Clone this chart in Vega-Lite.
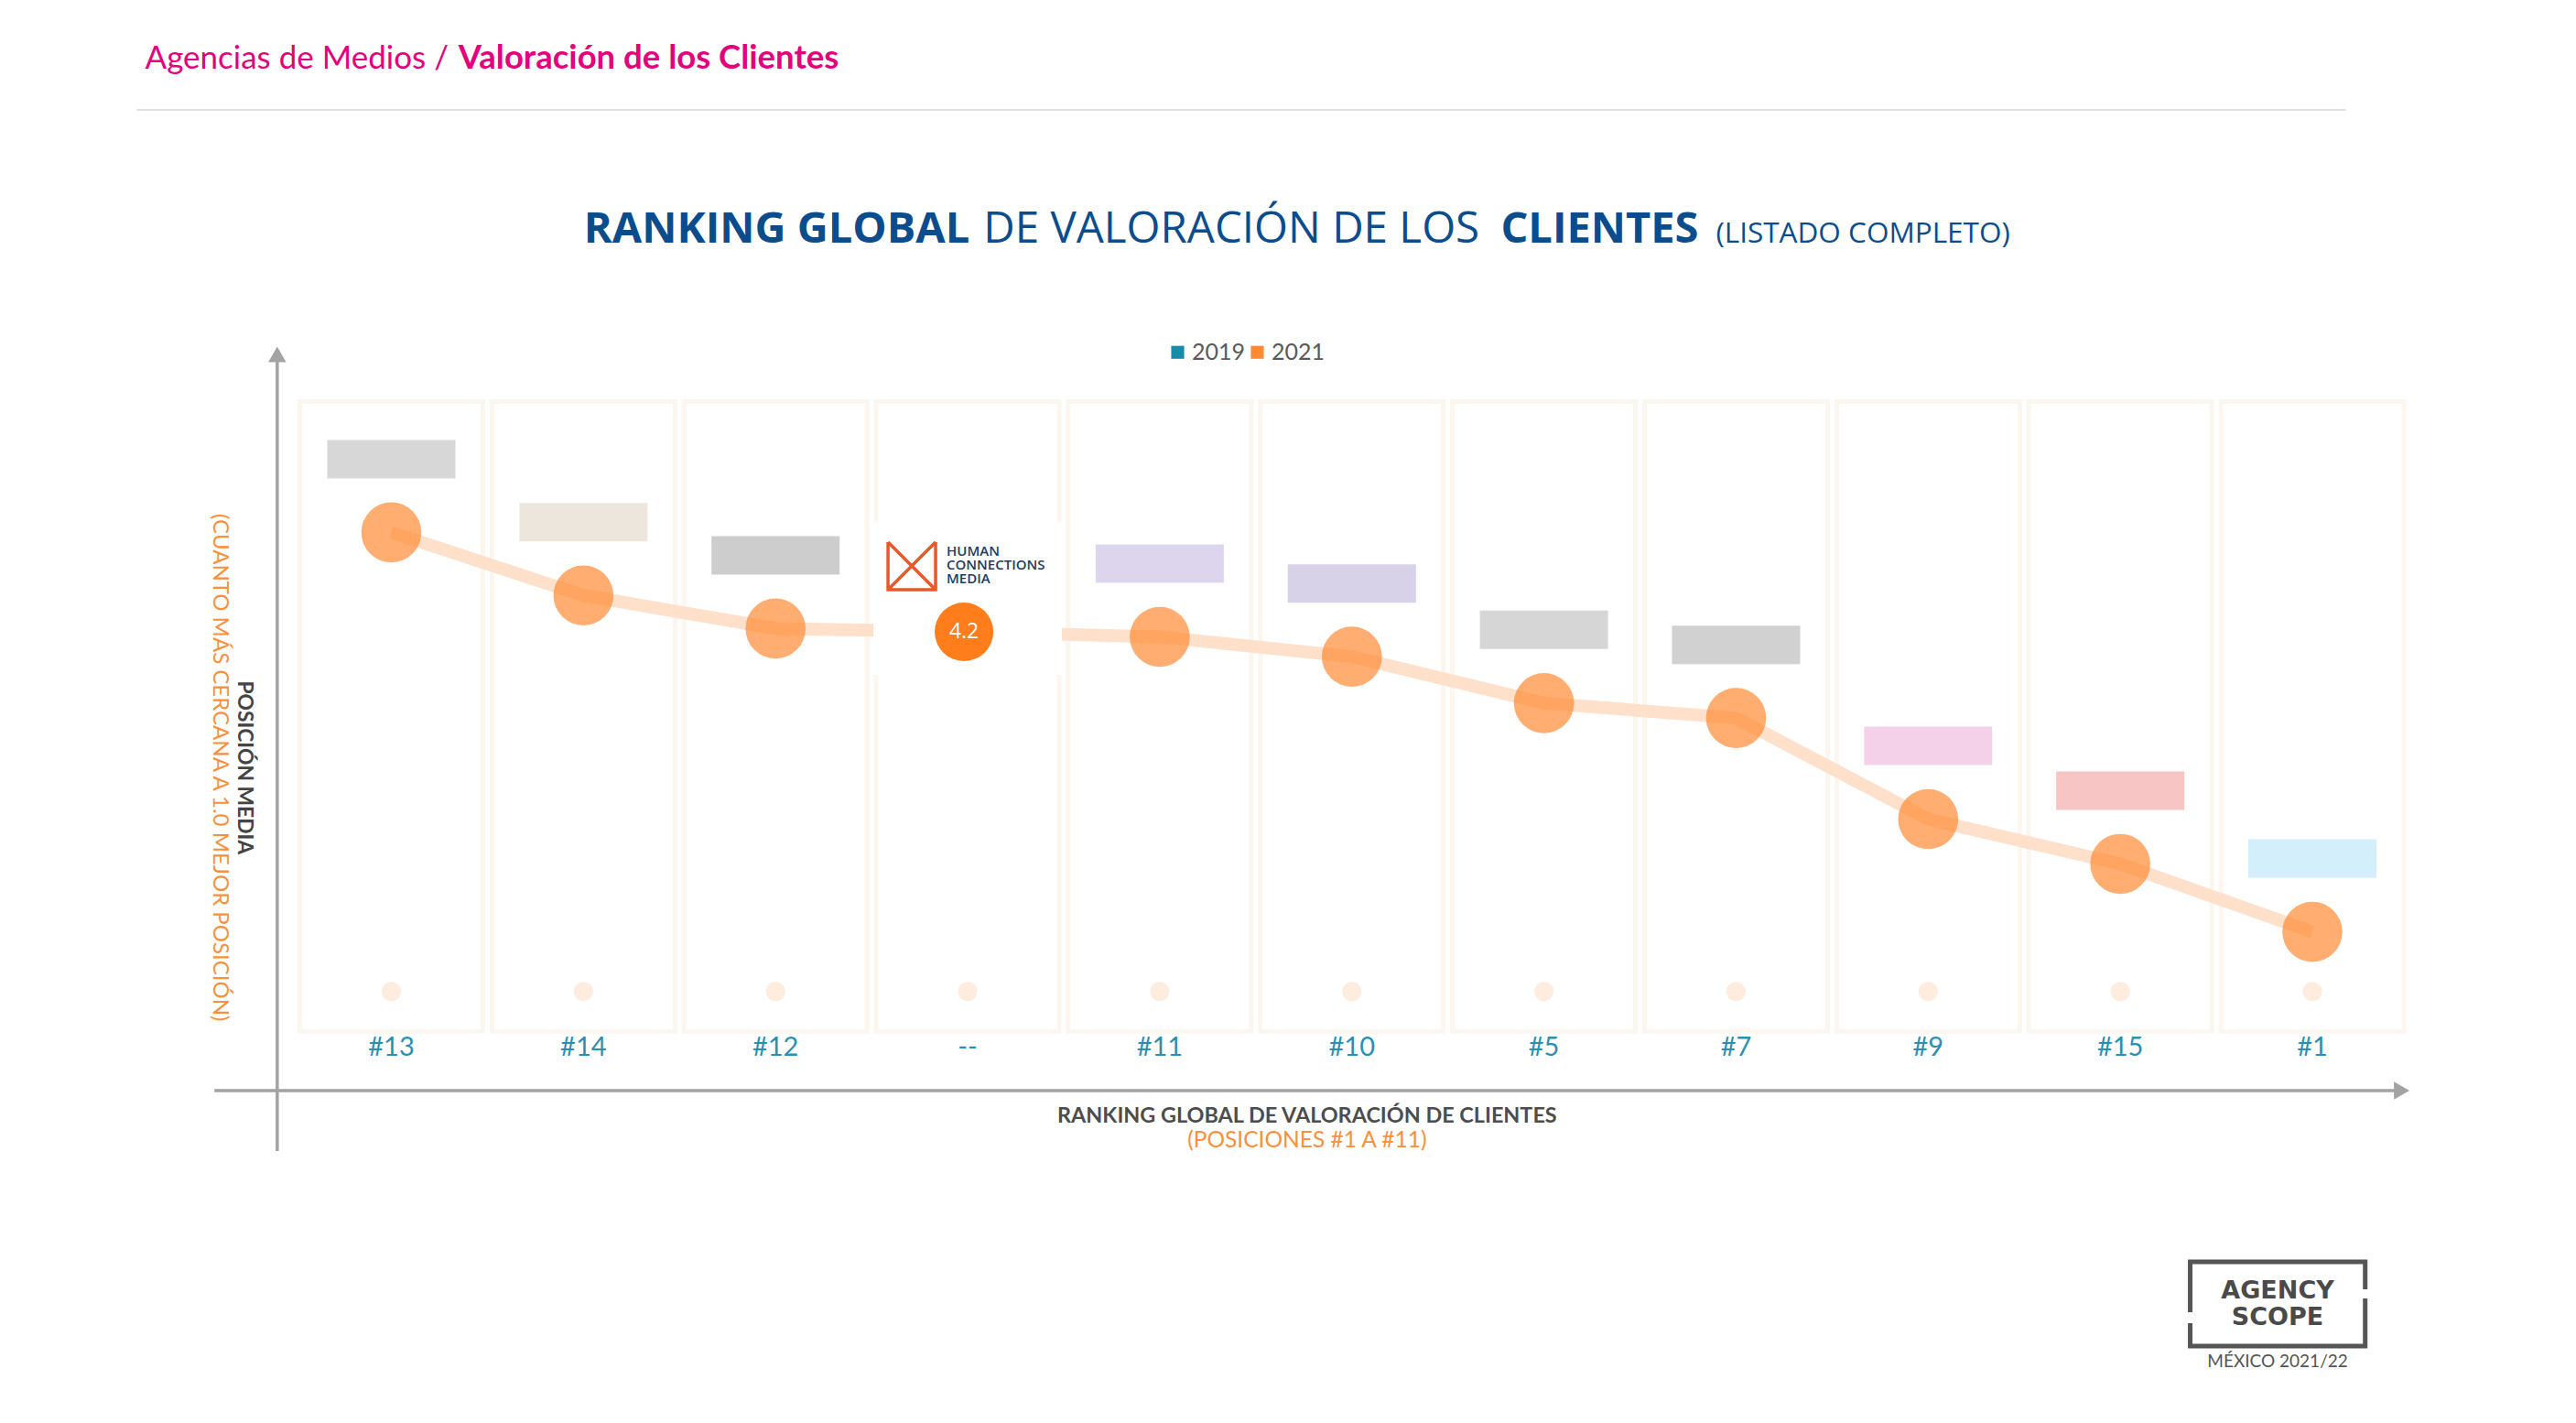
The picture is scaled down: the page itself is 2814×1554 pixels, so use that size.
{
  "$schema": "https://vega.github.io/schema/vega-lite/v6.json",
  "width": 2814,
  "height": 1554,
  "padding": 0,
  "autosize": {"type": "none"},
  "background": "white",
  "config": {"view": {"stroke": null}, "axis": {"disable": true}},
  "datasets": {
    "agencias": [
      {"idx": 0, "pos2019": "#13", "media": 4.80, "anio": "2021"},
      {"idx": 1, "pos2019": "#14", "media": 4.42, "anio": "2021"},
      {"idx": 2, "pos2019": "#12", "media": 4.22, "anio": "2021"},
      {"idx": 3, "pos2019": "--", "media": 4.20, "anio": "2021", "agencia": "Human Connections Media"},
      {"idx": 4, "pos2019": "#11", "media": 4.17, "anio": "2021"},
      {"idx": 5, "pos2019": "#10", "media": 4.05, "anio": "2021"},
      {"idx": 6, "pos2019": "#5", "media": 3.77, "anio": "2021"},
      {"idx": 7, "pos2019": "#7", "media": 3.68, "anio": "2021"},
      {"idx": 8, "pos2019": "#9", "media": 3.07, "anio": "2021"},
      {"idx": 9, "pos2019": "#15", "media": 2.80, "anio": "2021"},
      {"idx": 10, "pos2019": "#1", "media": 2.39, "anio": "2021"}
    ]
  },
  "resolve": {"scale": {"fill": "independent"}},
  "layer": [
    {
      "data": {"name": "agencias"},
      "mark": {"type": "bar", "width": 200, "fill": "#ffffff", "stroke": "#fcf6f0", "strokeWidth": 5},
      "encoding": {
        "x": {"field": "idx", "type": "quantitative", "scale": {"domain": [-2.0133, 11.3485], "nice": false, "zero": false}},
        "y": {"datum": 5.59, "type": "quantitative", "scale": {"domain": [-0.5734, 8.0122], "nice": false, "zero": false}},
        "y2": {"datum": 1.79}
      }
    },
    {
      "data": {"name": "agencias"},
      "mark": {"type": "point", "filled": true, "shape": "circle", "size": 450, "color": "#feeadc", "opacity": 0.9},
      "encoding": {
        "x": {"field": "idx", "type": "quantitative"},
        "y": {"datum": 2.03}
      }
    },
    {
      "data": {"name": "agencias"},
      "mark": {"type": "line", "color": "#fee0cb", "strokeWidth": 14},
      "encoding": {
        "x": {"field": "idx", "type": "quantitative"},
        "y": {"field": "media", "type": "quantitative"}
      }
    },
    {
      "data": {"name": "agencias"},
      "transform": [{"filter": "datum.idx != 3"}],
      "mark": {"type": "point", "filled": true, "shape": "M -1 -0.3 L 1 -0.3 L 1 0.3 L -1 0.3 Z", "size": 19600, "opacity": 0.35, "yOffset": -80},
      "encoding": {
        "x": {"field": "idx", "type": "quantitative"},
        "y": {"field": "media", "type": "quantitative"},
        "fill": {
          "field": "pos2019", "type": "nominal", "legend": null,
          "scale": {
            "domain": ["#13", "#14", "#12", "#11", "#10", "#5", "#7", "#9", "#15", "#1"],
            "range": ["#8c8c8c", "#c8b89c", "#6f6f6f", "#9d86cf", "#8e7fc0", "#8a8a8a", "#7a7a7a", "#e37cc0", "#e85a52", "#7fd0f4"]
          }
        }
      }
    },
    {
      "data": {"name": "agencias"},
      "transform": [{"filter": "datum.idx != 3"}],
      "mark": {"type": "point", "filled": true, "shape": "circle", "size": 4300, "opacity": 0.7},
      "encoding": {
        "x": {"field": "idx", "type": "quantitative"},
        "y": {"field": "media", "type": "quantitative"},
        "color": {
          "field": "anio", "type": "nominal",
          "scale": {"domain": ["2019", "2021"], "range": ["#1a8aab", "#ff8a33"]},
          "legend": {
            "title": null, "orient": "none", "legendX": 1274, "legendY": 372, "direction": "horizontal",
            "symbolType": "square", "symbolSize": 200, "symbolOpacity": 1, "symbolStrokeWidth": 0,
            "labelFont": "Lato", "labelFontSize": 25, "labelColor": "#5a5a5a", "labelOffset": 3, "columnPadding": 0
          }
        }
      }
    },
    {
      "data": {"name": "agencias"},
      "transform": [{"filter": "datum.idx == 3"}],
      "mark": {"type": "bar", "width": 206, "fill": "white"},
      "encoding": {
        "x": {"field": "idx", "type": "quantitative"},
        "y": {"datum": 4.86},
        "y2": {"datum": 3.94}
      }
    },
    {
      "data": {"name": "agencias"},
      "transform": [{"filter": "datum.idx == 3"}],
      "mark": {"type": "point", "filled": true, "shape": "circle", "size": 4100, "color": "#ff7d1a", "opacity": 1, "xOffset": -4},
      "encoding": {
        "x": {"field": "idx", "type": "quantitative"},
        "y": {"field": "media", "type": "quantitative"}
      }
    },
    {
      "data": {"name": "agencias"},
      "transform": [{"filter": "datum.idx == 3"}],
      "mark": {"type": "text", "color": "white", "font": "Open Sans", "fontSize": 23, "align": "center", "baseline": "middle", "xOffset": -4},
      "encoding": {
        "x": {"field": "idx", "type": "quantitative"},
        "y": {"field": "media", "type": "quantitative"},
        "text": {"field": "media", "type": "quantitative", "format": ".1f"}
      }
    },
    {
      "data": {"name": "agencias"},
      "transform": [{"filter": "datum.idx == 3"}],
      "mark": {"type": "point", "filled": false, "shape": "M -1 -1 L -1 1 L 1 1 L 1 -1 M -1 -1 L 1 1 M 1 -1 L -1 1", "size": 2700, "stroke": "#e45a2a", "strokeWidth": 3.5, "opacity": 1, "xOffset": -61, "yOffset": -72},
      "encoding": {
        "x": {"field": "idx", "type": "quantitative"},
        "y": {"field": "media", "type": "quantitative"}
      }
    },
    {
      "data": {"name": "agencias"},
      "transform": [{"filter": "datum.idx == 3"}],
      "mark": {"type": "text", "text": ["HUMAN", "CONNECTIONS", "MEDIA"], "color": "#1f3b5e", "font": "Open Sans", "fontSize": 15, "fontWeight": 600, "lineHeight": 15, "align": "left", "baseline": "middle", "xOffset": -23, "yOffset": -88},
      "encoding": {
        "x": {"field": "idx", "type": "quantitative"},
        "y": {"field": "media", "type": "quantitative"}
      }
    },
    {
      "data": {"name": "agencias"},
      "mark": {"type": "text", "color": "#2a90b3", "font": "Lato", "fontSize": 29, "align": "center", "baseline": "middle"},
      "encoding": {
        "x": {"field": "idx", "type": "quantitative"},
        "y": {"datum": 1.69},
        "text": {"field": "pos2019", "type": "nominal"}
      }
    },
    {
      "data": {"values": [{}]},
      "layer": [
        {
          "mark": {"type": "rule", "color": "#a3a3a3", "strokeWidth": 3.5},
          "encoding": {"x": {"datum": -0.594}, "y": {"datum": 1.067}, "y2": {"datum": 5.874}}
        },
        {
          "mark": {"type": "rule", "color": "#a3a3a3", "strokeWidth": 3.5},
          "encoding": {"y": {"datum": 1.432}, "x": {"datum": -0.921}, "x2": {"datum": 10.465}}
        },
        {
          "mark": {"type": "point", "shape": "triangle-up", "filled": true, "size": 380, "color": "#a3a3a3", "opacity": 1},
          "encoding": {"x": {"datum": -0.594}, "y": {"datum": 5.874}}
        },
        {
          "mark": {"type": "point", "shape": "triangle-right", "filled": true, "size": 380, "color": "#a3a3a3", "opacity": 1},
          "encoding": {"x": {"datum": 10.465}, "y": {"datum": 1.432}}
        },
        {
          "mark": {"type": "text", "text": "POSICIÓN MEDIA", "angle": 90, "font": "Lato", "fontSize": 22.8, "fontWeight": "bold", "color": "#444444", "align": "center", "baseline": "middle"},
          "encoding": {"x": {"datum": -0.767}, "y": {"datum": 3.381}}
        },
        {
          "mark": {"type": "text", "text": "(CUANTO MÁS CERCANA A 1.0 MEJOR POSICIÓN)", "angle": 90, "font": "Lato", "fontSize": 24, "color": "#f7913d", "align": "center", "baseline": "middle"},
          "encoding": {"x": {"datum": -0.895}, "y": {"datum": 3.381}}
        },
        {
          "mark": {"type": "text", "text": "RANKING GLOBAL DE VALORACIÓN DE CLIENTES", "font": "Lato", "fontSize": 23.4, "fontWeight": "bold", "color": "#4d4d4d", "align": "center", "baseline": "middle"},
          "encoding": {"x": {"datum": 4.767}, "y": {"datum": 1.277}}
        },
        {
          "mark": {"type": "text", "text": "(POSICIONES #1 A #11)", "font": "Lato", "fontSize": 24.5, "color": "#f7913d", "align": "center", "baseline": "middle"},
          "encoding": {"x": {"datum": 4.767}, "y": {"datum": 1.128}}
        },
        {
          "mark": {"type": "text", "text": "Agencias de Medios /", "font": "Lato", "fontSize": 35, "color": "#e4007c", "align": "left", "baseline": "middle"},
          "encoding": {"x": {"datum": -1.282}, "y": {"datum": 7.658}}
        },
        {
          "mark": {"type": "text", "text": "Valoración de los Clientes", "font": "Lato", "fontSize": 36.5, "fontWeight": "bold", "color": "#e4007c", "align": "left", "baseline": "middle"},
          "encoding": {"x": {"datum": 0.349}, "y": {"datum": 7.658}}
        },
        {
          "mark": {"type": "rule", "color": "#e0e0e0", "strokeWidth": 2},
          "encoding": {"y": {"datum": 7.349}, "x": {"datum": -1.325}, "x2": {"datum": 10.176}}
        },
        {
          "mark": {"type": "text", "text": "RANKING GLOBAL", "font": "Open Sans", "fontSize": 47, "fontWeight": "bold", "color": "#0b4d8c", "align": "left", "baseline": "alphabetic"},
          "encoding": {"x": {"datum": 1.002}, "y": {"datum": 6.549}}
        },
        {
          "mark": {"type": "text", "text": "DE VALORACIÓN DE LOS", "font": "Open Sans", "fontSize": 47.5, "fontWeight": 400, "color": "#0b4d8c", "align": "left", "baseline": "alphabetic"},
          "encoding": {"x": {"datum": 3.082}, "y": {"datum": 6.549}}
        },
        {
          "mark": {"type": "text", "text": "CLIENTES", "font": "Open Sans", "fontSize": 47, "fontWeight": "bold", "color": "#0b4d8c", "align": "left", "baseline": "alphabetic"},
          "encoding": {"x": {"datum": 5.775}, "y": {"datum": 6.549}}
        },
        {
          "mark": {"type": "text", "text": "(LISTADO COMPLETO)", "font": "Open Sans", "fontSize": 31.5, "fontWeight": 400, "color": "#0b4d8c", "align": "left", "baseline": "alphabetic"},
          "encoding": {"x": {"datum": 6.895}, "y": {"datum": 6.549}}
        },
        {
          "mark": {"type": "rect", "fill": null, "stroke": "#555555", "strokeWidth": 5},
          "encoding": {"x": {"datum": 9.364}, "x2": {"datum": 10.275}, "y": {"datum": 0.3989}, "y2": {"datum": -0.1093}}
        },
        {
          "mark": {"type": "rule", "color": "white", "strokeWidth": 9},
          "encoding": {"x": {"datum": 9.364}, "y": {"datum": 0.0951}, "y2": {"datum": 0.0288}}
        },
        {
          "mark": {"type": "rule", "color": "white", "strokeWidth": 9},
          "encoding": {"x": {"datum": 10.275}, "y": {"datum": 0.2332}, "y2": {"datum": 0.1779}}
        },
        {
          "mark": {"type": "text", "text": ["AGENCY", "SCOPE"], "lineHeight": 29, "font": "DejaVu Sans", "fontSize": 27, "fontWeight": "bold", "color": "#4a4a4a", "align": "center", "baseline": "middle"},
          "encoding": {"x": {"datum": 9.819}, "y": {"datum": 0.2221}}
        },
        {
          "mark": {"type": "text", "text": "MÉXICO 2021/22", "font": "Lato", "fontSize": 19, "color": "#555555", "align": "center", "baseline": "middle"},
          "encoding": {"x": {"datum": 9.819}, "y": {"datum": -0.2032}}
        }
      ]
    }
  ]
}
